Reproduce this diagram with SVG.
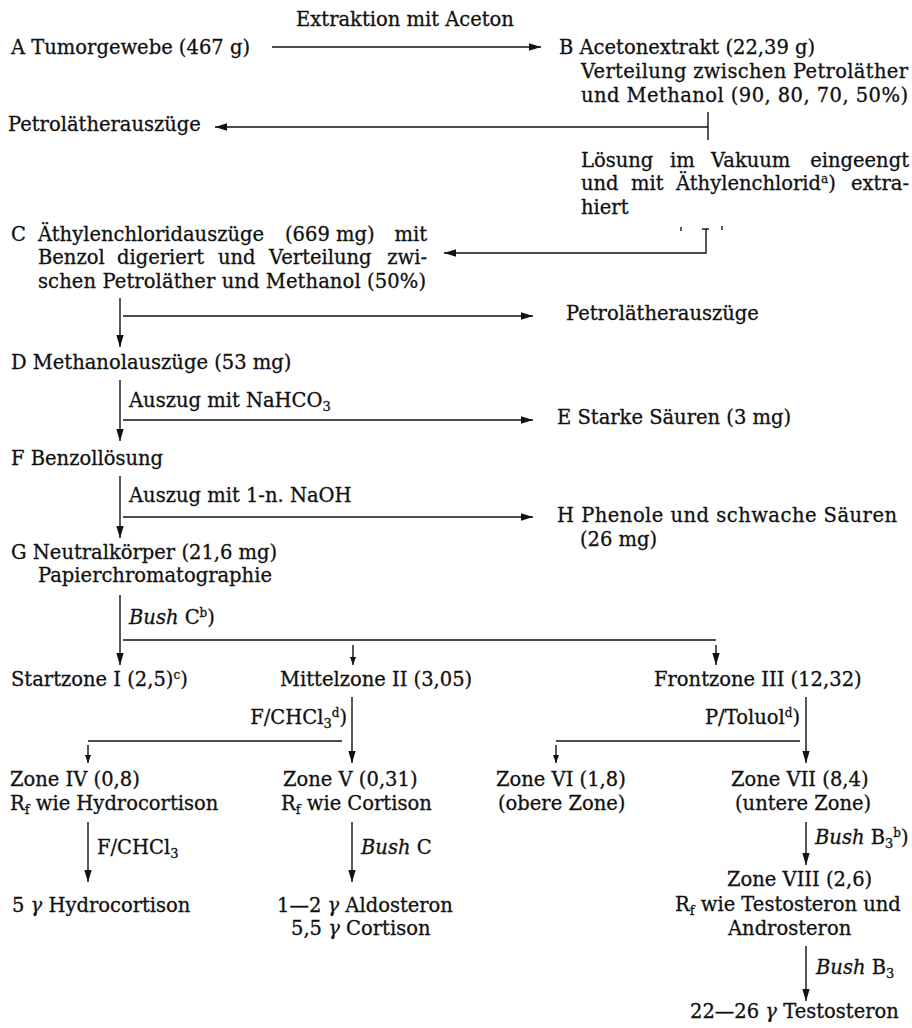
<svg xmlns="http://www.w3.org/2000/svg" width="912" height="1028" viewBox="0 0 912 1028">
<style>
text{font-family:"DejaVu Serif","Liberation Serif",serif;font-size:19.5px;fill:#111;stroke:#111;stroke-width:0.3}
.it{font-style:italic}
.c{stroke:#111;stroke-width:1.4;fill:none}
.e{text-anchor:end}
.m{text-anchor:middle}
.sup{font-size:12px}
.sub{font-size:13px}
</style>
<defs>
<marker id="ah" markerWidth="13" markerHeight="9" refX="12" refY="4.5" orient="auto" markerUnits="userSpaceOnUse"><path d="M0,0.8 L12,4.5 L0,8.2 z" fill="#111"/></marker>
<marker id="as" markerWidth="9" markerHeight="8" refX="8" refY="3.5" orient="auto" markerUnits="userSpaceOnUse"><path d="M0,0.5 L8,3.5 L0,6.5 z" fill="#111"/></marker>
</defs>
<rect width="912" height="1028" fill="#fff"/>

<g id="connectors">
<path class="c" d="M272,47 H541" marker-end="url(#ah)"/>
<path class="c" d="M708,112 V140"/>
<path class="c" d="M708,127 H215" marker-end="url(#ah)"/>
<path class="c" d="M706,229 V253 H444" marker-end="url(#ah)"/>
<path class="c" d="M702,229 H709"/>
<path class="c" d="M681,227 v4 M722,226 v4" stroke-width="1"/>
<path class="c" d="M120,298 V347" marker-end="url(#ah)"/>
<path class="c" d="M123,316 H533" marker-end="url(#ah)"/>
<path class="c" d="M120,380 V441" marker-end="url(#ah)"/>
<path class="c" d="M123,420 H533" marker-end="url(#ah)"/>
<path class="c" d="M120,476 V538" marker-end="url(#ah)"/>
<path class="c" d="M123,517 H533" marker-end="url(#ah)"/>
<path class="c" d="M120,595 V665" marker-end="url(#ah)"/>
<path class="c" d="M123,640 H716"/>
<path class="c" d="M353,645 V665" marker-end="url(#as)"/>
<path class="c" d="M716,645 V665" marker-end="url(#ah)"/>
<path class="c" d="M352,697 V763" marker-end="url(#ah)"/>
<path class="c" d="M342,741 H88"/>
<path class="c" d="M88,745 V763" marker-end="url(#as)"/>
<path class="c" d="M806,697 V763" marker-end="url(#ah)"/>
<path class="c" d="M800,741 H556"/>
<path class="c" d="M556,745 V763" marker-end="url(#as)"/>
<path class="c" d="M88,822 V882" marker-end="url(#ah)"/>
<path class="c" d="M352,822 V882" marker-end="url(#ah)"/>
<path class="c" d="M806,822 V865" marker-end="url(#ah)"/>
<path class="c" d="M806,946 V1001" marker-end="url(#ah)"/>
</g>

<g id="lbl-extraktion"><text x="405" y="26" class="m">Extraktion mit Aceton</text></g>
<g id="A"><text x="11" y="54">A Tumorgewebe (467 g)</text></g>
<g id="B">
<text x="559" y="54">B Acetonextrakt (22,39 g)</text>
<text x="581" y="78" textLength="327" lengthAdjust="spacing">Verteilung zwischen Petroläther</text>
<text x="581" y="102" textLength="327" lengthAdjust="spacing">und Methanol (90, 80, 70, 50%)</text>
</g>
<g id="petrol1"><text x="8" y="131">Petrolätherauszüge</text></g>
<g id="loesung">
<text x="581" y="167">Lösung</text><text x="670" y="167">im</text><text x="711" y="167">Vakuum</text><text x="909" y="167" class="e">eingeengt</text>
<text x="581" y="190">und</text><text x="631" y="190">mit</text><text x="676" y="190">Äthylenchlorid<tspan class="sup" dy="-7">a</tspan><tspan dy="7">)</tspan></text><text x="909" y="190" class="e">extra-</text>
<text x="581" y="214">hiert</text>
</g>
<g id="C">
<text x="11" y="241">C</text><text x="38" y="241">Äthylenchloridauszüge</text><text x="285" y="241">(669 mg)</text><text x="427" y="241" class="e">mit</text>
<text x="38" y="264">Benzol</text><text x="117" y="264">digeriert</text><text x="218" y="264">und</text><text x="269" y="264">Verteilung</text><text x="427" y="264" class="e">zwi-</text>
<text x="38" y="288" textLength="388" lengthAdjust="spacing">schen Petroläther und Methanol (50%)</text>
</g>
<g id="petrol2"><text x="566" y="320">Petrolätherauszüge</text></g>
<g id="D"><text x="11" y="369">D Methanolauszüge (53 mg)</text></g>
<g id="lbl-nahco3"><text x="129" y="407">Auszug mit NaHCO<tspan class="sub" dy="4">3</tspan></text></g>
<g id="E"><text x="557" y="424">E Starke Säuren (3 mg)</text></g>
<g id="F"><text x="11" y="465">F Benzollösung</text></g>
<g id="lbl-naoh"><text x="129" y="502">Auszug mit 1-n. NaOH</text></g>
<g id="H">
<text x="557" y="522" textLength="340" lengthAdjust="spacing">H Phenole und schwache Säuren</text>
<text x="580" y="546">(26 mg)</text>
</g>
<g id="G">
<text x="11" y="559">G Neutralkörper (21,6 mg)</text>
<text x="38" y="582">Papierchromatographie</text>
</g>
<g id="lbl-bushc"><text x="129" y="624"><tspan class="it">Bush</tspan> C<tspan class="sup" dy="-7">b</tspan><tspan dy="7">)</tspan></text></g>
<g id="I"><text x="11" y="686">Startzone I (2,5)<tspan class="sup" dy="-7">c</tspan><tspan dy="7">)</tspan></text></g>
<g id="II"><text x="280" y="686">Mittelzone II (3,05)</text></g>
<g id="III"><text x="654" y="686">Frontzone III (12,32)</text></g>
<g id="lbl-fchcl3"><text x="347" y="724" class="e">F/CHCl<tspan class="sub" dy="4">3</tspan><tspan class="sup" dy="-11">d</tspan><tspan dy="7">)</tspan></text></g>
<g id="lbl-ptoluol"><text x="800" y="724" class="e">P/Toluol<tspan class="sup" dy="-7">d</tspan><tspan dy="7">)</tspan></text></g>
<g id="IV">
<text x="10" y="786">Zone IV (0,8)</text>
<text x="10" y="810">R<tspan class="sub" dy="4">f</tspan><tspan dy="-4"> wie Hydrocortison</tspan></text>
</g>
<g id="V">
<text x="283" y="786">Zone V (0,31)</text>
<text x="281" y="810">R<tspan class="sub" dy="4">f</tspan><tspan dy="-4"> wie Cortison</tspan></text>
</g>
<g id="VI">
<text x="496" y="786">Zone VI (1,8)</text>
<text x="498" y="810">(obere Zone)</text>
</g>
<g id="VII">
<text x="731" y="786">Zone VII (8,4)</text>
<text x="735" y="810">(untere Zone)</text>
</g>
<g id="lbl-fchcl3b"><text x="97" y="854">F/CHCl<tspan class="sub" dy="4">3</tspan></text></g>
<g id="lbl-bushc2"><text x="361" y="854"><tspan class="it">Bush</tspan> C</text></g>
<g id="lbl-bushb3b"><text x="815" y="844"><tspan class="it">Bush</tspan> B<tspan class="sub" dy="4">3</tspan><tspan class="sup" dy="-11">b</tspan><tspan dy="7">)</tspan></text></g>
<g id="hydro"><text x="12" y="912">5 <tspan class="it">γ</tspan> Hydrocortison</text></g>
<g id="aldo">
<text x="277" y="912">1—2 <tspan class="it">γ</tspan> Aldosteron</text>
<text x="291" y="935">5,5 <tspan class="it">γ</tspan> Cortison</text>
</g>
<g id="VIII">
<text x="727" y="886">Zone VIII (2,6)</text>
<text x="675" y="911">R<tspan class="sub" dy="4">f</tspan><tspan dy="-4"> wie Testosteron und</tspan></text>
<text x="728" y="935">Androsteron</text>
</g>
<g id="lbl-bushb3"><text x="816" y="974"><tspan class="it">Bush</tspan> B<tspan class="sub" dy="4">3</tspan></text></g>
<g id="testo"><text x="690" y="1018">22—26 <tspan class="it">γ</tspan> Testosteron</text></g>
</svg>
